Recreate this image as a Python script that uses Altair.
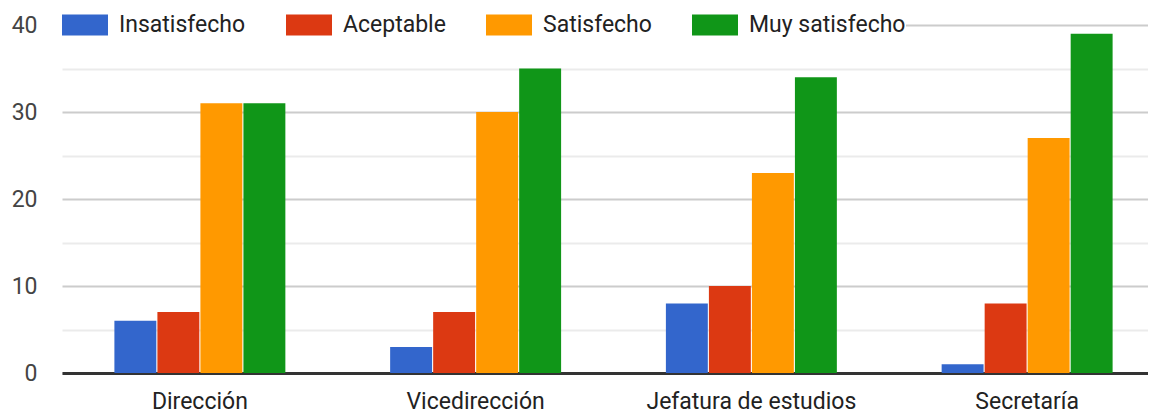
import altair as alt
import pandas as pd

categorias = ["Dirección", "Vicedirección", "Jefatura de estudios", "Secretaría"]
series = ["Insatisfecho", "Aceptable", "Satisfecho", "Muy satisfecho"]
insatisfecho = [6, 3, 8, 1]
aceptable = [7, 7, 10, 8]
satisfecho = [31, 30, 23, 27]
muy_satisfecho = [31, 35, 34, 39]
colores = ["#3366cc", "#dc3912", "#ff9900", "#109618"]
y_ticks = [0, 5, 10, 15, 20, 25, 30, 35, 40]

valores = [insatisfecho, aceptable, satisfecho, muy_satisfecho]
rows = []
for s, vals in zip(series, valores):
    for c, v in zip(categorias, vals):
        rows.append({"Categoría": c, "Serie": s, "Valor": v})
df = pd.DataFrame(rows)

FONT = "Roboto"

chart = alt.Chart(df).mark_bar().encode(
    x=alt.X("Categoría:N", sort=categorias, title=None,
            scale=alt.Scale(range=[0, 1103], paddingInner=0.38, paddingOuter=0.19),
            axis=alt.Axis(labelAngle=0, labelFontSize=23, labelColor="#222",
                          labelFont=FONT, labelPadding=17, ticks=False,
                          labelLimit=400,
                          domainColor="#333", domainWidth=3, grid=False)),
    xOffset=alt.XOffset("Serie:N", sort=series,
                        scale=alt.Scale(paddingInner=0.025, paddingOuter=0)),
    y=alt.Y("Valor:Q", title=None,
            scale=alt.Scale(domain=[0, 40], nice=False),
            axis=alt.Axis(values=y_ticks, domain=False, ticks=False,
                          labelExpr="datum.value % 10 == 0 ? datum.label : ''",
                          labelFontSize=23, labelColor="#444", labelFont=FONT,
                          labelPadding=25, gridWidth=2,
                          gridColor=alt.condition("datum.value % 10 == 0",
                                                  alt.value("#cccccc"),
                                                  alt.value("#ebebeb")))),
    color=alt.Color("Serie:N", sort=series,
                    scale=alt.Scale(domain=series, range=colores),
                    legend=alt.Legend(title=None, orient="none", legendX=0, legendY=-23,
                                      direction="horizontal", columns=4,
                                      symbolType="M-1,-0.46H1V0.46H-1Z",
                                      symbolSize=2116, symbolStrokeWidth=0,
                                      symbolOpacity=1,
                                      labelFontSize=23, labelFont=FONT,
                                      labelColor="#222", labelOffset=11,
                                      columnPadding=40, padding=0,
                                      fillColor="white")),
).properties(
    width=1086, height=348,
    autosize=alt.AutoSizeParams(type="none"),
    padding={"left": 54, "top": 17, "right": 0, "bottom": 40},
).configure_view(stroke=None)

chart.save("out.html", embed_options={"renderer": "svg", "actions": False})
